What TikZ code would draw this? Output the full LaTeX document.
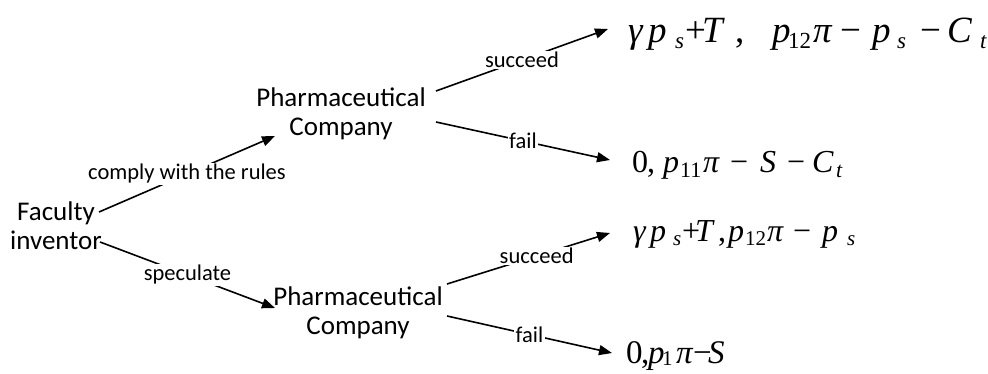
\documentclass[tikz,border=0pt]{standalone}
\usepackage{fontspec}
\setmainfont{Carlito}
\newfontfamily\tnr{Liberation Serif}
\usetikzlibrary{arrows.meta}
\newcommand\lo[2]{\raisebox{-0.14em}{\fontsize{#1}{#1}\selectfont #2}}
\newcommand\mi[1]{\textit{#1}}
\newcommand\g[2]{\makebox[#1pt][l]{#2}}
\begin{document}
\begin{tikzpicture}[x=1pt,y=-1pt,
  box/.style={font=\fontsize{27}{29}\selectfont, align=center, inner sep=0pt},
  lbl/.style={font=\fontsize{22.5}{24}\selectfont, fill=white, inner sep=1.5pt},
  edge/.style={line width=1.6pt, -{Triangle[length=13pt,width=10pt]}},
  pay/.style={anchor=base west, inner sep=0pt}]
\useasboundingbox (0,0) rectangle (988,374);
\fill[white] (0,0) rectangle (988,374);
\node[box] (fac) at (56,226) {Faculty\\inventor};
\node[box] (pt) at (341,114) {Pharmaceutical\\Company};
\node[box] (pb) at (358,313) {Pharmaceutical\\Company};
\node[pay, font=\fontsize{37}{37}\selectfont\tnr] (f1) at (628,43)
  {\g{20}{\mi{γ}}\g{27}{\mi{p}}\g{10}{\lo{23}{\mi{s}}}\g{17}{+}\g{33}{\mi{T}}\g{37}{,}\g{16}{\mi{p}}\g{25}{\lo{23}{12}}\g{27}{\mi{π}}\g{32}{−}\g{25}{\mi{p}}\g{23}{\lo{23}{\mi{s}}}\g{27}{−}\g{33}{\mi{C}}\lo{23}{\mi{t}}};
\node[pay, font=\fontsize{32}{32}\selectfont\tnr] (f2) at (632,173)
  {\g{15}{0}\g{16}{,}\g{17}{\mi{p}}\g{23}{\lo{22}{11}}\g{27}{\mi{π}}\g{30}{−}\g{27}{\mi{S}}\g{25}{−}\g{24}{\mi{C}}\lo{22}{\mi{t}}};
\node[pay, font=\fontsize{32}{32}\selectfont\tnr] (f3) at (633,241)
  {\g{17}{\mi{γ}}\g{23}{\mi{p}}\g{9}{\lo{21}{\mi{s}}}\g{13}{+}\g{23}{\mi{T}}\g{10}{,}\g{17}{\mi{p}}\g{22}{\lo{21}{12}}\g{26}{\mi{π}}\g{29}{−}\g{25}{\mi{p}}\lo{21}{\mi{s}}};
\node[pay, font=\fontsize{33}{33}\selectfont\tnr] (f4) at (626,363)
  {\g{15}{0}\g{7}{,}\g{14}{\mi{p}}\g{14}{\raisebox{-0.08em}{\fontsize{21}{21}\selectfont 1}}\g{17}{\mi{π}}\g{15}{−}\mi{S}};
\draw[edge] ([shift={(43,-14)}]fac.center) -- node[lbl]{comply with the rules} ([shift={(-66,22)}]pt.center);
\draw[edge] ([shift={(44,16)}]fac.center) -- node[lbl]{speculate} ([shift={(-83,-5)}]pb.center);
\draw[edge] ([shift={(95,-23)}]pt.center) -- node[lbl]{succeed} ([shift={(-20,-14)}]f1.base west);
\draw[edge] ([shift={(95,8)}]pt.center) -- node[lbl]{fail} ([shift={(-22,-13)}]f2.base west);
\draw[edge] ([shift={(89,-29)}]pb.center) -- node[lbl, pos=0.55]{succeed} ([shift={(-23,-8)}]f3.base west);
\draw[edge] ([shift={(89,3)}]pb.center) -- node[lbl]{fail} ([shift={(-14,-10)}]f4.base west);
\end{tikzpicture}
\end{document}
